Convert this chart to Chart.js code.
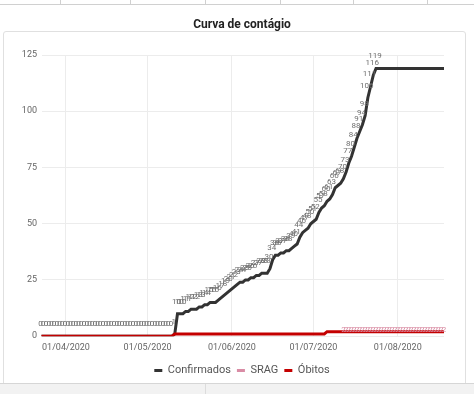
<!DOCTYPE html>
<html><head><meta charset="utf-8">
<script src="https://cdn.jsdelivr.net/npm/chart.js@4/dist/chart.umd.min.js"></script>
<style>
html,body{margin:0;padding:0;background:#fff;width:474px;height:394px;overflow:hidden;font-family:Roboto,sans-serif;}
#top{position:absolute;left:0;top:0;width:474px;height:4px;border-bottom:1px solid #d0d0d0;}
#top div{position:absolute;top:0;width:1px;height:5px;background:#d0d0d0;}
#frame{position:absolute;left:3px;top:31px;width:461px;height:370px;border:1px solid #e0e0e0;border-radius:3px;}
#bottom{position:absolute;left:0;top:383px;width:474px;height:11px;background:#f2f2f2;border-top:1px solid #d6d6d6;}
#bottom div{position:absolute;left:205px;top:0;width:1px;height:11px;background:#dcdcdc;}
#wrap{position:absolute;left:0;top:0;width:474px;height:394px;}
</style></head>
<body>
<div id="top"><div style="left:60px"></div><div style="left:130px"></div><div style="left:205px"></div><div style="left:280px"></div><div style="left:353px"></div><div style="left:427px"></div></div>
<div id="frame"></div>
<div id="bottom"><div></div></div>
<div id="wrap"><canvas id="c" width="474" height="394"></canvas></div>
<script>
// Daily categories from 23/03/2020 to 18/08/2020
const START_DAY = [2020, 3, 23];
const DAY_COUNT = 149;
const TICK_LABELS = ['01/04/2020', '01/05/2020', '01/06/2020', '01/07/2020', '01/08/2020'];
const DATES = [];
for (let i = 0; i < DAY_COUNT; i++) {
  const d = new Date(START_DAY[0], START_DAY[1] - 1, START_DAY[2] + i);
  DATES.push(String(d.getDate()).padStart(2, '0') + '/' + String(d.getMonth() + 1).padStart(2, '0') + '/' + d.getFullYear());
}

const CONFIRMADOS = [
  0,0,0,0,0,0,0,0,0,0,
  0,0,0,0,0,0,0,0,0,0,
  0,0,0,0,0,0,0,0,0,0,
  0,0,0,0,0,0,0,0,0,0,
  0,0,0,0,0,0,0,0,0,
  1,10,10,10,11,11,12,12,12,13,
  13,14,14,15,15,15,16,17,18,19,
  20,21,22,23,24,24,25,25,26,26,
  27,27,28,28,28,30,34,36,36,37,
  37,38,38,39,40,41,44,46,47,48,
  50,51,52,55,57,58,60,61,63,66,
  67,68,70,73,77,80,84,88,91,94,
  98,106,111,116,119,
  119,119,119,119,119,119,119,119,119,119,
  119,119,119,119,119,119,119,119,119,119,
  119,119,119,119,119
];

const SRAG = [
  null,null,null,null,null,null,null,null,null,null,
  null,null,null,null,null,null,null,null,null,null,
  null,null,null,null,null,null,null,null,null,null,
  null,null,null,null,null,null,null,null,null,null,
  null,null,null,null,null,null,null,null,null,null,
  null,null,null,null,null,null,null,null,null,null,
  null,null,null,null,null,null,null,null,null,null,
  null,null,null,null,null,null,null,null,null,null,
  null,null,null,null,null,null,null,null,null,null,
  null,null,null,null,null,null,null,null,null,null,
  null,null,null,null,null,null,null,null,null,null,
  null,
  2,2,2,2,2,2,2,2,2,2,
  2,2,2,2,2,2,2,2,2,2,
  2,2,2,2,2,2,2,2,2,2,
  2,2,2,2,2,2,2,2
];

const OBITOS = [
  0,0,0,0,0,0,0,0,0,0,
  0,0,0,0,0,0,0,0,0,0,
  0,0,0,0,0,0,0,0,0,0,
  0,0,0,0,0,0,0,0,0,0,
  0,0,0,0,0,0,0,0,0,
  1,1,1,1,1,1,1,1,1,1,
  1,1,1,1,1,1,1,1,1,1,
  1,1,1,1,1,1,1,1,1,1,
  1,1,1,1,1,1,1,1,1,1,
  1,1,1,1,1,1,1,1,1,1,
  1,1,1,1,1,1,
  2,2,2,2,2,2,2,2,2,2,
  2,2,2,2,2,2,2,2,2,2,
  2,2,2,2,2,2,2,2,2,2,
  2,2,2,2,2,2,2,2,2,2,
  2,2,2,2
];

const valueLabels = {
  id: 'valueLabels',
  afterDatasetsDraw(chart) {
    const ctx = chart.ctx;
    ctx.save();
    ctx.textAlign = 'center';
    ctx.textBaseline = 'middle';
    ctx.font = '8px Roboto';
    const d0 = chart.data.datasets[0].data;
    // the trailing flat run (after the last change) carries no labels
    let lastChange = d0.length - 1;
    while (lastChange > 0 && d0[lastChange - 1] === d0[lastChange]) lastChange--;
    const m0 = chart.getDatasetMeta(0);
    ctx.fillStyle = '#6e6e6e';
    m0.data.forEach((p, i) => {
      const v = d0[i];
      if (v == null || i > lastChange) return;
      ctx.fillText(String(v), p.x - 1, p.y - 12);
    });
    const m1 = chart.getDatasetMeta(1);
    ctx.fillStyle = '#d7879f';
    m1.data.forEach((p, i) => {
      const v = chart.data.datasets[1].data[i];
      if (v == null || p.skip) return;
      ctx.fillText(String(v), p.x, p.y - 2);
    });
    ctx.restore();
  }
};

new Chart(document.getElementById('c'), {
  type: 'line',
  data: {
    labels: DATES,
    datasets: [
      { label: 'Confirmados', data: CONFIRMADOS, borderColor: '#333333', backgroundColor: '#333333', borderWidth: 3, pointRadius: 0, tension: 0, order: 1 },
      { label: 'SRAG', data: SRAG, borderColor: '#d98ca5', backgroundColor: '#d98ca5', borderWidth: 2, pointRadius: 0, tension: 0, order: 2 },
      { label: 'Óbitos', data: OBITOS, borderColor: '#c40000', backgroundColor: '#c40000', borderWidth: 3, pointRadius: 0, tension: 0, order: 0 }
    ]
  },
  options: {
    responsive: false,
    animation: false,
    layout: { padding: { left: 19.5, right: 9.5, top: 0, bottom: 8 } },
    plugins: {
      title: { display: true, text: 'Curva de contágio', color: '#212121', font: { family: 'Roboto', size: 12, weight: 'bold' }, padding: { top: 18, bottom: 22.6 } },
      legend: {
        position: 'bottom',
        labels: {
          font: { family: 'Roboto', size: 11 }, color: '#555',
          boxWidth: 8, boxHeight: 3, padding: 6,
          sort: (a, b) => a.datasetIndex - b.datasetIndex,
          generateLabels(chart) {
            const items = Chart.defaults.plugins.legend.labels.generateLabels(chart);
            items.forEach(it => { it.lineWidth = 0; });
            return items;
          }
        }
      },
      tooltip: { enabled: false }
    },
    scales: {
      x: {
        type: 'category',
        border: { display: false },
        grid: { color: '#ececec', drawTicks: false },
        ticks: {
          autoSkip: false, maxRotation: 0, minRotation: 0, padding: 6,
          color: '#666', font: { family: 'Roboto', size: 9 },
          callback(value) { const l = this.getLabelForValue(value); return TICK_LABELS.includes(l) ? l : null; }
        }
      },
      y: {
        min: 0, max: 125,
        border: { display: false },
        grid: { color: '#ececec', drawTicks: false },
        ticks: { stepSize: 25, padding: 4.5, color: '#666', font: { family: 'Roboto', size: 9 } },
        afterFit(scale) { scale.width = 22; }
      },
      yRight: {
        position: 'right',
        display: true,
        border: { display: false },
        grid: { display: false, drawTicks: false },
        ticks: { display: false },
        afterFit(scale) { scale.width = 20.5; }
      }
    }
  },
  plugins: [valueLabels]
});
</script>
</body></html>
